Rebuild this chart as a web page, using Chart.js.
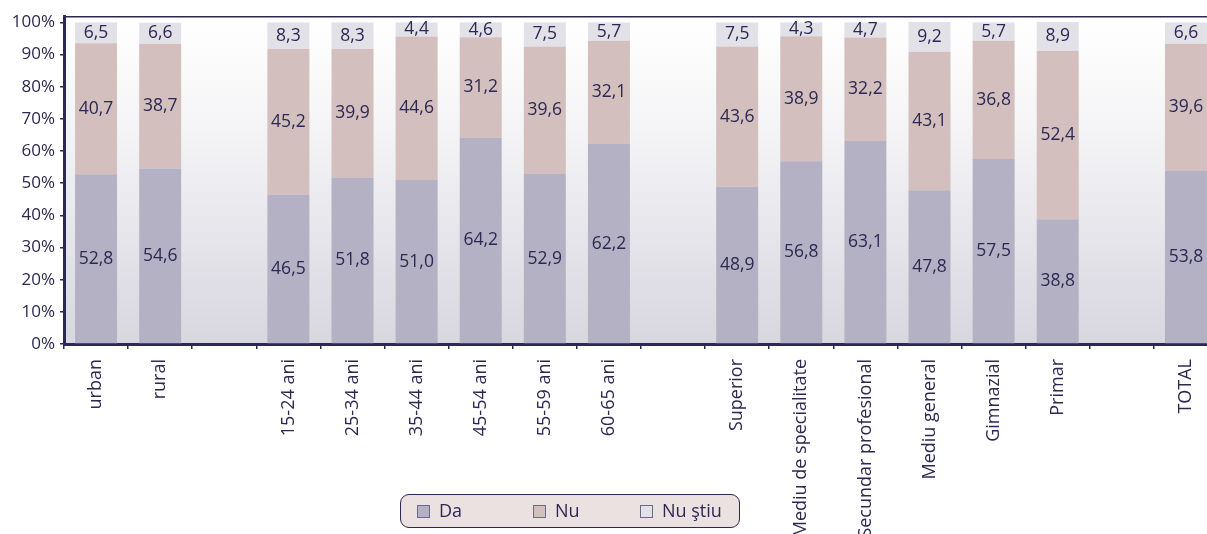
<!DOCTYPE html>
<html>
<head>
<meta charset="utf-8">
<script src="https://cdn.jsdelivr.net/npm/chart.js@4/dist/chart.umd.min.js"></script>
<style>
  html, body { margin:0; padding:0; background:#fff; overflow:hidden; width:1207px; height:534px; }
  #wrap { position:absolute; left:0; top:0; width:1218px; height:534px; }
  #legend { position:absolute; left:400px; top:494px; width:340px; height:34px; box-sizing:border-box;
    border:1.5px solid #2b2852; border-radius:9px; background:#ebe1e1; font-family:"Open Sans", sans-serif;
    font-size:18px; color:#2b2852; }
  .item { position:absolute; top:0; height:31px; line-height:31px; white-space:nowrap; }
  .box { display:inline-block; width:11px; height:11px; border:1px solid #6b6985; vertical-align:middle; margin-right:9px; position:relative; top:-1px; }
</style>
</head>
<body>
<div id="wrap"><canvas id="c"></canvas></div>
<div id="legend"></div>
<script>
const categories = ['urban','rural','','15-24 ani','25-34 ani','35-44 ani','45-54 ani','55-59 ani','60-65 ani','',
  'Superior','Mediu de specialitate','Secundar profesional','Mediu general','Gimnazial','Primar','','TOTAL'];
const da    = [52.8, 54.6, null, 46.5, 51.8, 51.0, 64.2, 52.9, 62.2, null, 48.9, 56.8, 63.1, 47.8, 57.5, 38.8, null, 53.8];
const nu    = [40.7, 38.7, null, 45.2, 39.9, 44.6, 31.2, 39.6, 32.1, null, 43.6, 38.9, 32.2, 43.1, 36.8, 52.4, null, 39.6];
const nuStiu= [6.5, 6.6, null, 8.3, 8.3, 4.4, 4.6, 7.5, 5.7, null, 7.5, 4.3, 4.7, 9.2, 5.7, 8.9, null, 6.6];
const seriesNames = ['Da','Nu','Nu ştiu'];
const yTicks = [0,10,20,30,40,50,60,70,80,90,100];

const navy = '#2b2852';
const colors = ['#b4b1c4','#d2bfbe','#e2e1e7'];
const FONT = '"Open Sans", sans-serif';

const bgPlugin = {
  id:'bg',
  beforeDraw(chart){
    const {ctx, chartArea:a} = chart;
    const g = ctx.createLinearGradient(0,a.top,0,a.bottom);
    g.addColorStop(0,'#ffffff');
    g.addColorStop(0.35,'#f4f4f6');
    g.addColorStop(1,'#d8d6df');
    ctx.save(); ctx.fillStyle = g; ctx.fillRect(a.left,a.top,a.right-a.left,a.bottom-a.top);
    ctx.restore();
  },
  afterDraw(chart){
    const {ctx, chartArea:a} = chart;
    ctx.save(); ctx.strokeStyle = navy; ctx.lineWidth = 1.5;
    ctx.beginPath(); ctx.moveTo(a.left, a.top+0.75); ctx.lineTo(a.right, a.top+0.75); ctx.stroke();
    ctx.restore();
  }
};

const labelPlugin = {
  id:'vals',
  afterDatasetsDraw(chart){
    const ctx = chart.ctx;
    ctx.save();
    ctx.font = '17.5px ' + FONT;
    ctx.fillStyle = navy; ctx.textAlign = 'center'; ctx.textBaseline = 'middle';
    chart.data.datasets.forEach((ds,i)=>{
      const meta = chart.getDatasetMeta(i);
      meta.data.forEach((el,j)=>{
        const v = ds.data[j];
        if (v == null) return;
        const y = (el.y + el.base)/2;
        ctx.fillText(v.toFixed(1).replace('.',','), el.x, y);
      });
    });
    ctx.restore();
  }
};

new Chart(document.getElementById('c'), {
  type:'bar',
  data:{
    labels: categories,
    datasets: [da, nu, nuStiu].map((d,i)=>({
      label: seriesNames[i], data: d, backgroundColor: colors[i],
      borderWidth: 0, barPercentage: 0.655, categoryPercentage: 1
    }))
  },
  options:{
    responsive:true, maintainAspectRatio:false, animation:false,
    layout:{ padding:{ top:16, right:0, left:0, bottom:0 } },
    plugins:{ legend:{display:false}, tooltip:{enabled:false} },
    scales:{
      x:{
        stacked:true,
        grid:{ drawOnChartArea:false, drawTicks:true, tickLength:5, color:navy, lineWidth:1.5, offset:true },
        border:{ color:navy, width:3 },
        ticks:{ color:navy, font:{ family:FONT, size:18 }, maxRotation:90, minRotation:90, padding:10, autoSkip:false },
        afterFit(s){ s.height = 190; }
      },
      y:{
        stacked:true, min:0, max:102,
        afterBuildTicks(s){ s.ticks = yTicks.map(v=>({value:v})); },
        grid:{ drawOnChartArea:false, drawTicks:true, tickLength:4, color:navy, lineWidth:1.5 },
        border:{ color:navy, width:3 },
        ticks:{ color:navy, font:{ family:FONT, size:17 }, padding:5, callback:v=>v+'%' },
        afterFit(s){ s.width = 64; }
      }
    }
  },
  plugins:[bgPlugin, labelPlugin]
});

const lg = document.getElementById('legend');
const pos = [16, 132, 239];
seriesNames.forEach((n,i)=>{
  const it = document.createElement('div');
  it.className = 'item'; it.style.left = pos[i]+'px';
  it.innerHTML = '<span class="box" style="background:'+colors[i]+'"></span>';
  it.appendChild(document.createTextNode(n));
  lg.appendChild(it);
});
</script>
</body>
</html>
